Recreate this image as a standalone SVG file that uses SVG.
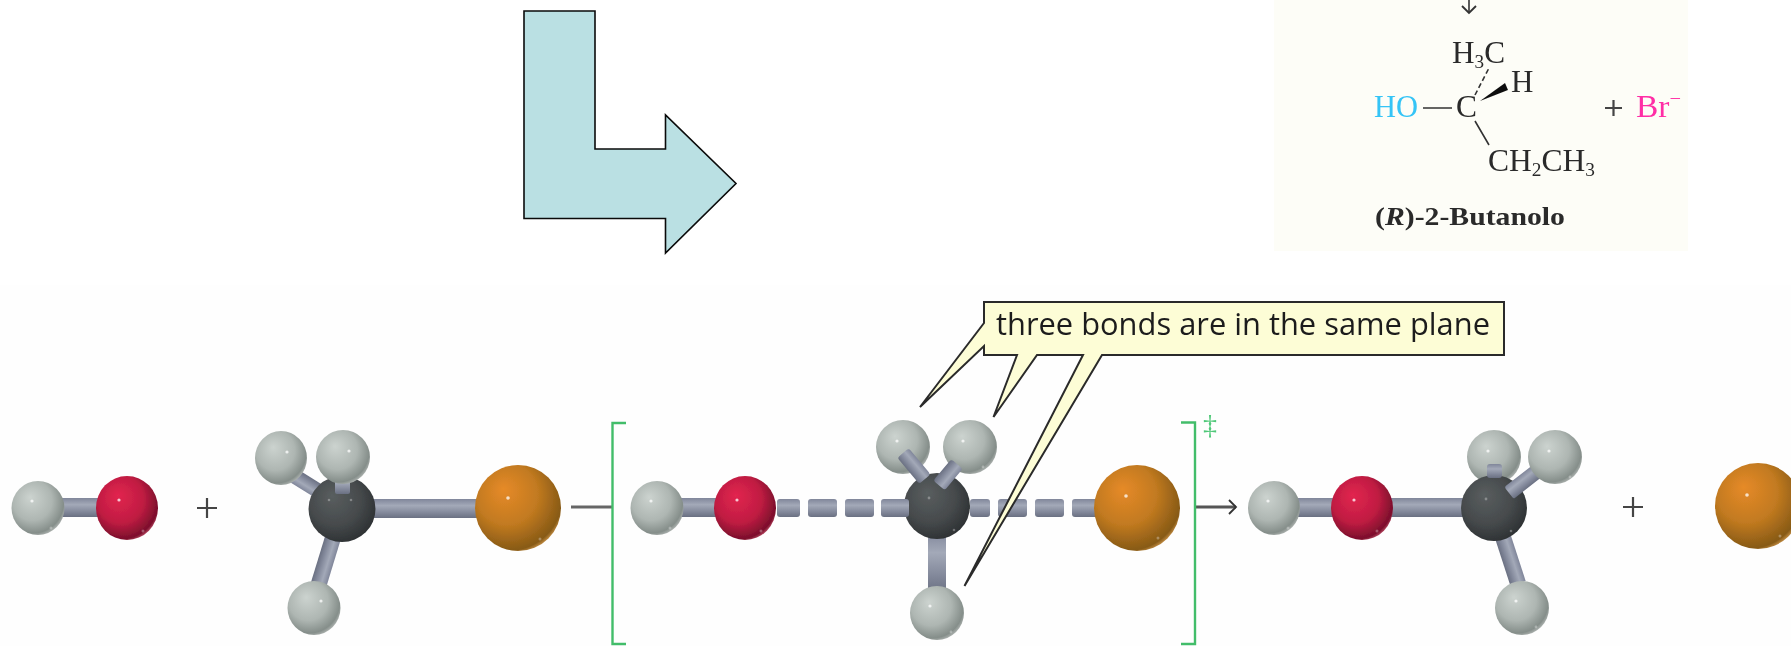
<svg xmlns="http://www.w3.org/2000/svg" width="1791" height="646" viewBox="0 0 1791 646">
<style>
.f{font-family:"Liberation Serif","Times New Roman",serif;fill:#2a2a2a;font-size:31px}
.s{font-size:19px}
.k{fill:none;stroke:#333;stroke-width:1.6}
.co{font-family:"Open Sans","Noto Sans",sans-serif;font-size:31px;fill:#1d1d1d}
.h{fill:url(#gh)}.o{fill:url(#go)}.c{fill:url(#gc)}.br{fill:url(#gb)}
.b{fill:url(#gbond)}
.d{fill:#fff;opacity:.75}.e{fill:#fff;opacity:.3}
.sym{fill:none;stroke:#444;stroke-width:2.2}
.br-k{fill:none;stroke:#43bd6b;stroke-width:2.4}
</style>
<defs>
<filter id="soft" x="-5%" y="-5%" width="110%" height="110%"><feGaussianBlur stdDeviation="0.6"/></filter>
<radialGradient id="gh" cx="0.42" cy="0.4" r="0.62" fx="0.35" fy="0.3"><stop offset="0" stop-color="#ccd3cf"/><stop offset="0.6" stop-color="#aeb6b2"/><stop offset="0.92" stop-color="#858e8a"/><stop offset="1" stop-color="#a8aeab"/></radialGradient>
<radialGradient id="go" cx="0.42" cy="0.4" r="0.62" fx="0.35" fy="0.3"><stop offset="0" stop-color="#e2254f"/><stop offset="0.6" stop-color="#c01c42"/><stop offset="0.95" stop-color="#7c0f2c"/><stop offset="1" stop-color="#a83a55"/></radialGradient>
<radialGradient id="gc" cx="0.42" cy="0.4" r="0.62" fx="0.35" fy="0.3"><stop offset="0" stop-color="#595e5f"/><stop offset="0.6" stop-color="#474b4d"/><stop offset="1" stop-color="#2e3234"/></radialGradient>
<radialGradient id="gb" cx="0.4" cy="0.38" r="0.65" fx="0.33" fy="0.28"><stop offset="0" stop-color="#e68a28"/><stop offset="0.55" stop-color="#c27a20"/><stop offset="0.95" stop-color="#875a16"/><stop offset="1" stop-color="#b8843c"/></radialGradient>
<linearGradient id="gbond" x1="0" y1="0" x2="0" y2="1"><stop offset="0" stop-color="#80869a"/><stop offset="0.35" stop-color="#a3a9b8"/><stop offset="0.7" stop-color="#848a9c"/><stop offset="1" stop-color="#6a7082"/></linearGradient>
<marker id="open" markerWidth="12" markerHeight="16" refX="10" refY="8" orient="auto" markerUnits="userSpaceOnUse"><path d="M3,1 L10,8 L3,15" fill="none" stroke="#333" stroke-width="1.8"/></marker>
</defs>
<rect width="1791" height="646" fill="#fff"/>
<rect x="0" y="285" width="1791" height="361" fill="#fefefe"/>

<g id="big-arrow"><path d="M524,11 H595 V149 H665.5 V115 L736,183.500 L665.5,253 V218.500 H524 Z" fill="#bae0e3" stroke="#0a0a0a" stroke-width="1.6"/></g>

<g id="product-panel" filter="url(#soft)">
<rect x="1274" y="-2" width="414" height="253" fill="#fdfdf7"/>
<text class="f" x="1452" y="63" textLength="53" lengthAdjust="spacingAndGlyphs">H<tspan class="s" dy="5">3</tspan><tspan dy="-5">C</tspan></text>
<text class="f" x="1511" y="92">H</text>
<text class="f" x="1374" y="117" textLength="44" lengthAdjust="spacingAndGlyphs" style="fill:#35c4f6">HO</text>
<text class="f" x="1456" y="117" textLength="21" lengthAdjust="spacingAndGlyphs">C</text>
<text class="f" x="1488" y="171" textLength="107" lengthAdjust="spacingAndGlyphs">CH<tspan class="s" dy="5">2</tspan><tspan dy="-5">CH</tspan><tspan class="s" dy="5">3</tspan></text>
<text class="f" x="1636" y="117" textLength="45" lengthAdjust="spacingAndGlyphs" style="fill:#ff2ea6">Br<tspan class="s" dy="-12">−</tspan></text>
<text class="f" x="1375" y="225" textLength="190" lengthAdjust="spacingAndGlyphs" style="font-size:25px;font-weight:700">(<tspan font-style="italic">R</tspan>)-2-Butanolo</text>
<path class="sym" d="M1605,108 H1622 M1613.5,100 V116"/>
<path class="k" d="M1423,108 H1452 M1475,121 L1489,145"/>
<path class="k" stroke-dasharray="5 3" d="M1475,95 L1489,68"/>
<path d="M1480,101 L1505,83 L1508,90 Z" fill="#111"/>
</g>

<g id="connectors" filter="url(#soft)">
<path d="M1469,0 V13" class="k" marker-end="url(#open)"/>
<path d="M571,507 H612" fill="none" stroke="#666" stroke-width="3"/>
<path d="M1195,507 H1236" fill="none" stroke="#555" stroke-width="3" marker-end="url(#open)"/>
</g>

<g id="hydroxide" filter="url(#soft)" transform="translate(0,1)">
<rect class="b" x="55" y="497" width="50" height="19"/>
<ellipse class="h" cx="38" cy="507" rx="26.5" ry="27"/><circle class="d" cx="32" cy="500" r="1.6"/><circle class="e" cx="51" cy="527" r="1.5"/>
<ellipse class="o" cx="127" cy="507" rx="31" ry="32"/><circle class="d" cx="119" cy="499" r="1.6"/><circle class="e" cx="143" cy="530" r="1.5"/>
</g>
<g id="plus-1" filter="url(#soft)" transform="translate(0,2)"><path class="sym" d="M197,506 H217 M207,496 V516"/></g>

<g id="methyl-bromide" filter="url(#soft)" transform="translate(0,1)">
<rect class="b" x="0" y="-8" width="56" height="16" transform="translate(335,530) rotate(107)"/>
<rect class="b" x="0" y="-7.500" width="40" height="15" transform="translate(328,496) rotate(212)"/>
<rect class="b" x="370" y="498" width="115" height="19"/>
<ellipse class="h" cx="281" cy="457" rx="26" ry="27"/><circle class="d" cx="287" cy="451" r="1.6"/>
<ellipse class="h" cx="314" cy="607" rx="26.5" ry="27"/><circle class="d" cx="321" cy="600" r="1.6"/>
<ellipse class="c" cx="342" cy="508" rx="33.5" ry="33"/><circle class="e" cx="329" cy="499" r="1.3"/><circle class="e" cx="351" cy="499" r="1.3"/>
<rect class="b" x="335" y="476" width="15" height="17" rx="2"/>
<ellipse class="h" cx="343" cy="456" rx="27" ry="27"/><circle class="d" cx="349" cy="450" r="1.6"/>
<ellipse class="br" cx="518" cy="507" rx="43" ry="43"/><circle class="d" cx="508" cy="497" r="1.8"/><circle class="e" cx="540" cy="538" r="1.5"/>
</g>

<g id="transition-state" filter="url(#soft)" transform="translate(0,1)">
<path class="br-k" d="M626,422 H612.500 V643 H626 M1181,421.500 H1195 V643 H1181"/>
<text x="1210" y="433" text-anchor="middle" style="font-family:'Liberation Serif',serif;font-size:28px;fill:#4fc878">‡</text>
<rect class="b" x="670" y="497" width="50" height="19"/>
<ellipse class="h" cx="657" cy="507" rx="26.500" ry="27"/><circle class="d" cx="651" cy="500" r="1.6"/><circle class="e" cx="670" cy="527" r="1.5"/>
<ellipse class="o" cx="745" cy="507" rx="31" ry="32"/><circle class="d" cx="737" cy="499" r="1.6"/><circle class="e" cx="761" cy="530" r="1.5"/>
<rect class="b" x="777" y="498" width="23" height="18" rx="3"/>
<rect class="b" x="808" y="498" width="29" height="18" rx="3"/>
<rect class="b" x="845" y="498" width="29" height="18" rx="3"/>
<rect class="b" x="970" y="498" width="20" height="18" rx="3"/>
<rect class="b" x="998" y="498" width="29" height="18" rx="3"/>
<rect class="b" x="1035" y="498" width="29" height="18" rx="3"/>
<rect class="b" x="1072" y="498" width="30" height="18" rx="3"/>
<rect class="b" x="928" y="530" width="18" height="62"/>
<ellipse class="c" cx="937" cy="505" rx="33" ry="33"/><circle class="e" cx="929" cy="497" r="1.4"/><circle class="e" cx="954" cy="529" r="1.3"/>
<rect class="b" x="881" y="498" width="28" height="18" rx="3"/>
<ellipse class="h" cx="903" cy="446" rx="27" ry="27"/><circle class="d" cx="897" cy="440" r="1.6"/>
<ellipse class="h" cx="970" cy="446" rx="27" ry="27"/><circle class="d" cx="963" cy="440" r="1.6"/><circle class="e" cx="983" cy="466" r="1.4"/>
<rect class="b" x="0" y="-7.500" width="34" height="15" rx="3" transform="translate(903,452) rotate(50)"/>
<rect class="b" x="0" y="-7.500" width="28" height="15" rx="3" transform="translate(957,463) rotate(130)"/>
<ellipse class="h" cx="937" cy="612" rx="27" ry="27"/><circle class="d" cx="930" cy="605" r="1.6"/><circle class="e" cx="951" cy="631" r="1.4"/>
<ellipse class="br" cx="1137" cy="507" rx="43" ry="43"/><circle class="d" cx="1126" cy="495" r="1.8"/><circle class="e" cx="1158" cy="537" r="1.5"/>
</g>

<g id="methanol" filter="url(#soft)" transform="translate(0,4)">
<rect class="b" x="0" y="-8" width="52" height="16" transform="translate(1502,530) rotate(72)"/>
<ellipse class="h" cx="1494" cy="453" rx="27" ry="27"/><circle class="d" cx="1488" cy="447" r="1.6"/>
<rect class="b" x="1290" y="494" width="50" height="19"/>
<rect class="b" x="1385" y="494" width="85" height="19"/>
<ellipse class="h" cx="1274" cy="504" rx="26" ry="27"/><circle class="d" cx="1268" cy="497" r="1.6"/><circle class="e" cx="1288" cy="524" r="1.5"/>
<ellipse class="o" cx="1362" cy="504" rx="31" ry="32"/><circle class="d" cx="1354" cy="496" r="1.6"/><circle class="e" cx="1377" cy="527" r="1.5"/>
<ellipse class="c" cx="1494" cy="504" rx="33" ry="33"/><circle class="e" cx="1486" cy="495" r="1.4"/><circle class="e" cx="1511" cy="527" r="1.3"/>
<rect class="b" x="1487" y="460" width="15" height="14" rx="3"/>
<ellipse class="h" cx="1522" cy="604" rx="27" ry="27"/><circle class="d" cx="1516" cy="597" r="1.6"/><circle class="e" cx="1536" cy="623" r="1.4"/>
<rect class="b" x="0" y="-7.500" width="36" height="15" rx="2" transform="translate(1509,489) rotate(-38)"/>
<ellipse class="h" cx="1555" cy="453" rx="27" ry="27"/><circle class="d" cx="1549" cy="447" r="1.6"/><circle class="e" cx="1570" cy="473" r="1.4"/>
</g>

<g id="plus-2" filter="url(#soft)" transform="translate(0,1)"><path class="sym" d="M1623,506 H1643 M1633,496 V516"/></g>
<g id="bromide" filter="url(#soft)" transform="translate(0,2)"><ellipse class="br" cx="1758" cy="504" rx="43" ry="43"/><circle class="d" cx="1747" cy="493" r="1.8"/><circle class="e" cx="1780" cy="534" r="1.5"/></g>

<g id="callout" filter="url(#soft)" transform="translate(0,1)">
<path d="M984,301 H1504 V354 H1102 L964.500,585 L1083,354 H1037 L993.500,416 L1017,354 H984 V345 L920,406 L984,322 Z" fill="#fdfdd6" stroke="#2a2a2a" stroke-width="2"/>
<text class="co" x="996" y="334" textLength="494" lengthAdjust="spacingAndGlyphs">three bonds are in the same plane</text>
</g>
</svg>
